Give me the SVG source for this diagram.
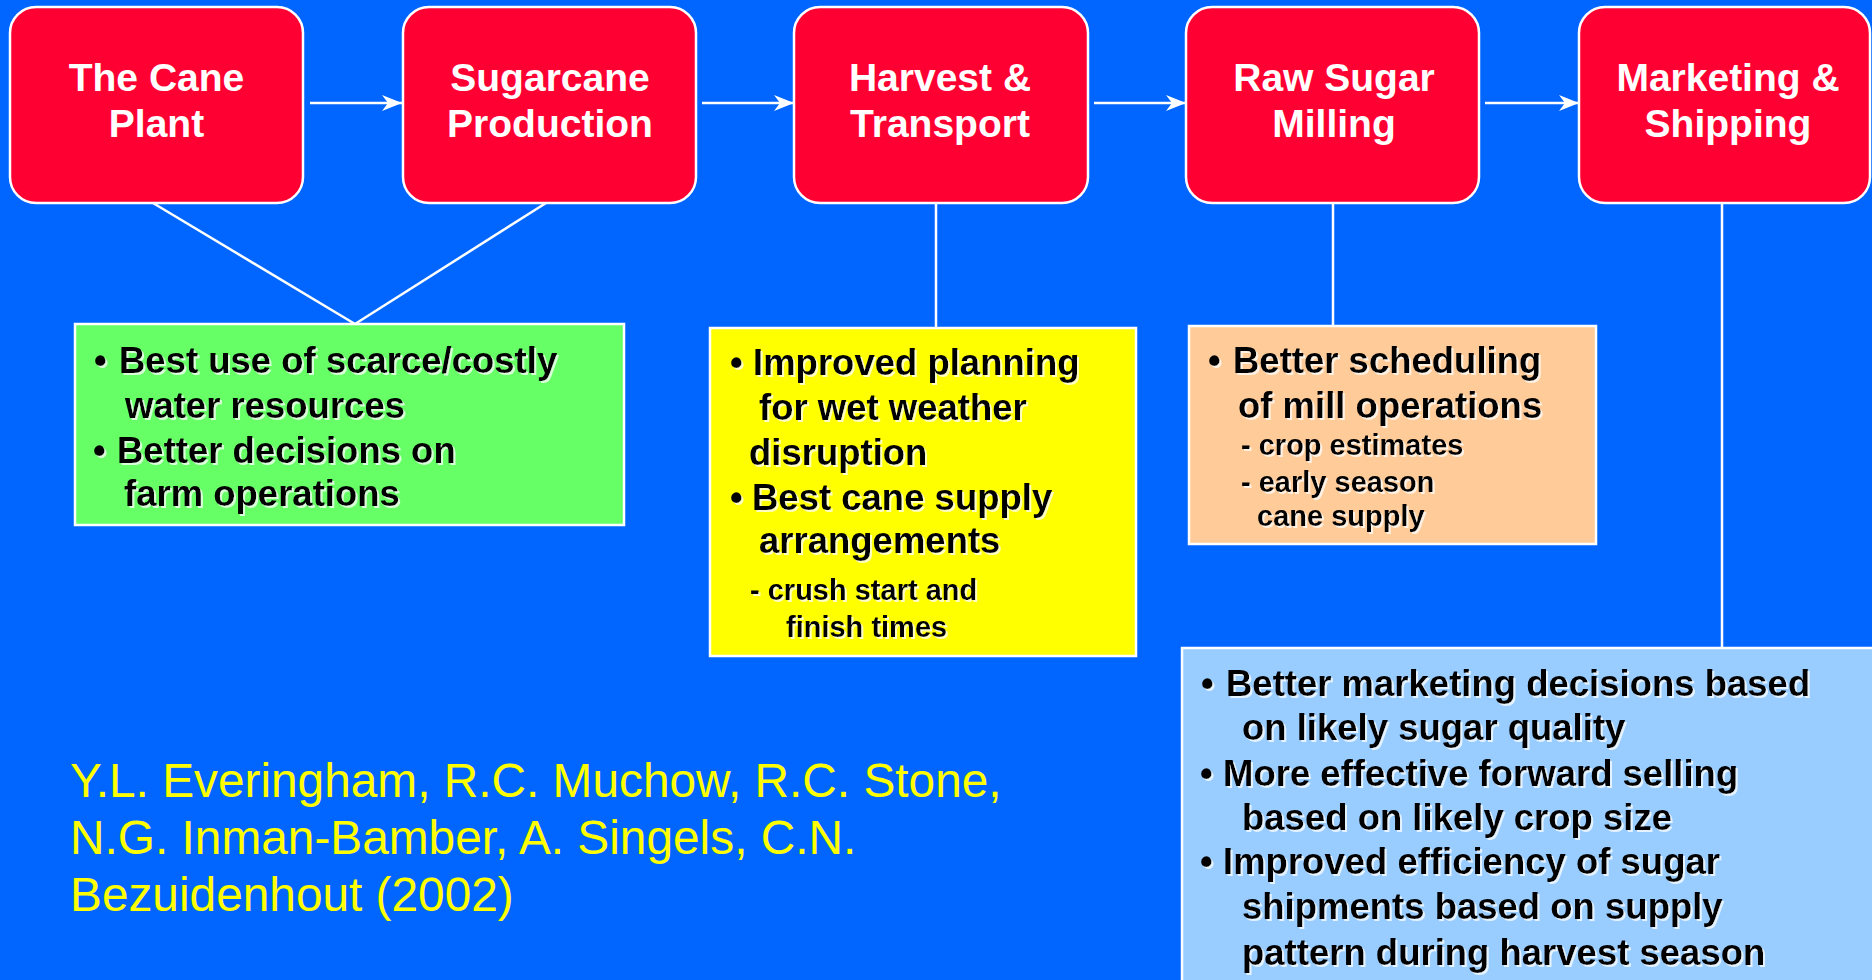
<svg xmlns="http://www.w3.org/2000/svg" width="1872" height="980" viewBox="0 0 1872 980">
<style>
.stage{fill:#FF0033;stroke:#FFFFFF;stroke-width:2.5}
.title{font-family:"Liberation Sans",Arial,sans-serif;font-weight:bold;font-size:39px;fill:#FFFFFF;text-anchor:middle}
.panel{stroke:#FFFFFF;stroke-width:2.5}
.body{font-family:"Liberation Sans",Arial,sans-serif;font-weight:bold;font-size:36.5px;fill:#000000}
.small{font-family:"Liberation Sans",Arial,sans-serif;font-weight:bold;font-size:29px;fill:#000000}
.cite{font-family:"Liberation Sans",Arial,sans-serif;font-size:47.8px;fill:#FFFF00}
.conn{stroke:#FFFFFF;stroke-width:2.5;fill:none}
</style>
<defs>
<marker id="arrow" viewBox="0 0 20 16" refX="20" refY="8" markerWidth="20" markerHeight="16" markerUnits="userSpaceOnUse" orient="auto">
<path d="M0,0 L20,8 L0,16 L6,8 Z" fill="#FFFFFF"/>
</marker>
<filter id="shadow" x="-5%" y="-20%" width="110%" height="150%">
<feDropShadow dx="2" dy="2" stdDeviation="0.7" flood-color="#FFFFFF" flood-opacity="0.75"/>
</filter>
</defs>
<rect width="1872" height="980" fill="#0066FF"/>

<g id="connectors">
<line class="conn" x1="310" y1="103" x2="402" y2="103" marker-end="url(#arrow)"/>
<line class="conn" x1="702" y1="103" x2="794" y2="103" marker-end="url(#arrow)"/>
<line class="conn" x1="1094" y1="103" x2="1186" y2="103" marker-end="url(#arrow)"/>
<line class="conn" x1="1485" y1="103" x2="1579" y2="103" marker-end="url(#arrow)"/>
<line class="conn" x1="153" y1="203" x2="355" y2="324"/>
<line class="conn" x1="546" y1="203" x2="355" y2="324"/>
<line class="conn" x1="936" y1="203" x2="936" y2="328"/>
<line class="conn" x1="1333" y1="203" x2="1333" y2="326"/>
<line class="conn" x1="1722" y1="203" x2="1722" y2="648"/>
</g>

<g id="cane-plant">
<rect class="stage" x="10" y="7" width="293" height="196" rx="26"/>
<text class="title" x="156.5" y="91">The Cane</text>
<text class="title" x="156.5" y="137">Plant</text>
</g>
<g id="sugarcane-production">
<rect class="stage" x="403" y="7" width="293" height="196" rx="26"/>
<text class="title" x="550" y="91">Sugarcane</text>
<text class="title" x="550" y="137">Production</text>
</g>
<g id="harvest-transport">
<rect class="stage" x="794" y="7" width="294" height="196" rx="26"/>
<text class="title" x="940" y="91">Harvest &amp;</text>
<text class="title" x="940" y="137">Transport</text>
</g>
<g id="raw-sugar-milling">
<rect class="stage" x="1186" y="7" width="293" height="196" rx="26"/>
<text class="title" x="1334" y="91">Raw Sugar</text>
<text class="title" x="1334" y="137">Milling</text>
</g>
<g id="marketing-shipping">
<rect class="stage" x="1579" y="7" width="291" height="196" rx="26"/>
<text class="title" x="1728" y="91">Marketing &amp;</text>
<text class="title" x="1728" y="137">Shipping</text>
</g>

<g id="farm-benefits">
<rect class="panel" x="75" y="324" width="549" height="201" fill="#66FF66"/>
<g filter="url(#shadow)">
<text class="body" x="94" y="373">•</text>
<text class="body" x="119" y="373">Best use of scarce/costly</text>
<text class="body" x="125" y="418">water resources</text>
<text class="body" x="93" y="463">•</text>
<text class="body" x="117" y="463">Better decisions on</text>
<text class="body" x="124" y="506">farm operations</text>
</g>
</g>

<g id="harvest-benefits">
<rect class="panel" x="710" y="328" width="426" height="328" fill="#FFFF00"/>
<g filter="url(#shadow)">
<text class="body" x="730" y="375">•</text>
<text class="body" x="753" y="375">Improved planning</text>
<text class="body" x="759" y="420">for wet weather</text>
<text class="body" x="749" y="465">disruption</text>
<text class="body" x="730" y="510">•</text>
<text class="body" x="752" y="510">Best cane supply</text>
<text class="body" x="759" y="553">arrangements</text>
<text class="small" x="750" y="600">- crush start and</text>
<text class="small" x="786" y="637">finish times</text>
</g>
</g>

<g id="milling-benefits">
<rect class="panel" x="1189" y="326" width="407" height="218" fill="#FFCC99"/>
<g filter="url(#shadow)">
<text class="body" x="1208" y="373">•</text>
<text class="body" x="1233" y="373">Better scheduling</text>
<text class="body" x="1238" y="418">of mill operations</text>
<text class="small" x="1241" y="455">- crop estimates</text>
<text class="small" x="1241" y="492">- early season</text>
<text class="small" x="1257" y="526">cane supply</text>
</g>
</g>

<g id="marketing-benefits">
<rect class="panel" x="1182" y="648" width="692" height="334" fill="#99CCFF"/>
<g filter="url(#shadow)">
<text class="body" x="1201" y="696">•</text>
<text class="body" x="1226" y="696">Better marketing decisions based</text>
<text class="body" x="1242" y="740">on likely sugar quality</text>
<text class="body" x="1200" y="786">•</text>
<text class="body" x="1223" y="786">More effective forward selling</text>
<text class="body" x="1242" y="830">based on likely crop size</text>
<text class="body" x="1200" y="874">•</text>
<text class="body" x="1223" y="874">Improved efficiency of sugar</text>
<text class="body" x="1242" y="919">shipments based on supply</text>
<text class="body" x="1242" y="965">pattern during harvest season</text>
</g>
</g>

<g id="citation">
<text class="cite" x="70" y="797">Y.L. Everingham, R.C. Muchow, R.C. Stone,</text>
<text class="cite" x="70" y="854">N.G. Inman-Bamber, A. Singels, C.N.</text>
<text class="cite" x="70" y="911">Bezuidenhout (2002)</text>
</g>
</svg>
